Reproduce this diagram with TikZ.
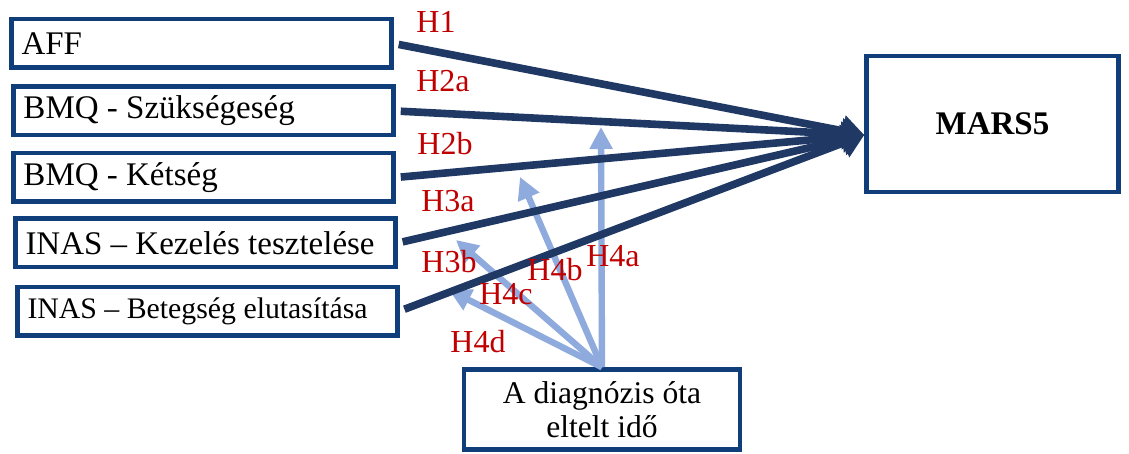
\documentclass[tikz,border=0pt]{standalone}
\usepackage{fontspec}
\setmainfont{Liberation Serif}
\usetikzlibrary{arrows.meta}

\definecolor{boxblue}{RGB}{16,62,122}
\definecolor{navy}{RGB}{32,56,100}
\definecolor{lightblue}{RGB}{143,170,220}
\definecolor{hred}{RGB}{192,0,0}

\newcommand{\boxtext}[1]{\makebox[180pt][l]{#1}}

\tikzset{
	varbox/.style={draw=boxblue, line width=2.25pt, rectangle, minimum width=190pt, minimum height=24.25pt, inner xsep=5pt, inner ysep=0pt, font=\fontsize{16.5}{19}\selectfont},
	path/.style={draw=navy, line width=3.8pt, -{Triangle[length=11pt,width=15pt]}, shorten <=2.5pt},
	moder/.style={draw=lightblue, line width=3.2pt, -{Triangle[length=11pt,width=11pt]}},
	hlab/.style={text=hred, inner sep=0pt, font=\fontsize{16}{18}\selectfont}
}

\begin{document}
\begin{tikzpicture}[x=0.5pt, y=-0.5pt]
	\useasboundingbox (0, 0) rectangle (1129, 454);

		\node[varbox] (aff) at(201.5, 43.5){\boxtext{AFF}};
		\node[varbox] (bmqa) at(203.5, 111){\boxtext{BMQ - Szükségeség}};
		\node[varbox] (bmqb) at(203.5, 177.5){\boxtext{BMQ - Kétség}};
		\node[varbox] (inasa) at(205.5, 243){\boxtext{INAS -- Kezelés tesztelése}};
		\node[varbox, font=\fontsize{14.9}{17}\selectfont] (inasb) at(207.5, 311){\boxtext{INAS -- Betegség elutasítása}};

		\node[draw=boxblue, line width=2.25pt, minimum width=126pt, minimum height=68pt, font=\fontsize{16.5}{19}\selectfont\bfseries] (mars) at(992.5, 124){MARS5};
		\node[draw=boxblue, line width=2.25pt, minimum width=138pt, minimum height=40pt, align=center, font=\fontsize{15.8}{17}\selectfont] (diag) at(602, 409.5){A diagnózis óta\\eltelt idő};

		\coordinate (hub) at([yshift=-5.5pt]mars.west);

		% moderating paths
		\coordinate (m4a) at(601, 127);
		\coordinate (m4b) at(520, 177);
		\coordinate (m4c) at(456, 240);
		\coordinate (m4d) at(449, 290);
			\draw[moder](diag.north) to (m4a);
			\draw[moder](diag.north) to (m4b);
			\draw[moder](diag.north) to (m4c);
			\draw[moder](diag.north) to (m4d);

		% direct paths
			\draw[path](aff.east) to (hub);
			\draw[path](bmqa.east) to (hub);
			\draw[path](bmqb.east) to (hub);
			\draw[path](inasa.east) to (hub);
			\draw[path](inasb.east) to (hub);

		\node[hlab] (h1) at(436, 22){H1};
		\node[hlab] (h2a) at(443, 81){H2a};
		\node[hlab] (h2b) at(445, 144){H2b};
		\node[hlab] (h3a) at(448, 201){H3a};
		\node[hlab] (h3b) at(449, 262){H3b};
		\node[hlab] (h4a) at(613, 256){H4a};
		\node[hlab] (h4b) at(555, 270){H4b};
		\node[hlab] (h4c) at(506, 294){H4c};
		\node[hlab] (h4d) at(478, 342){H4d};
	\end{tikzpicture}
\end{document}
